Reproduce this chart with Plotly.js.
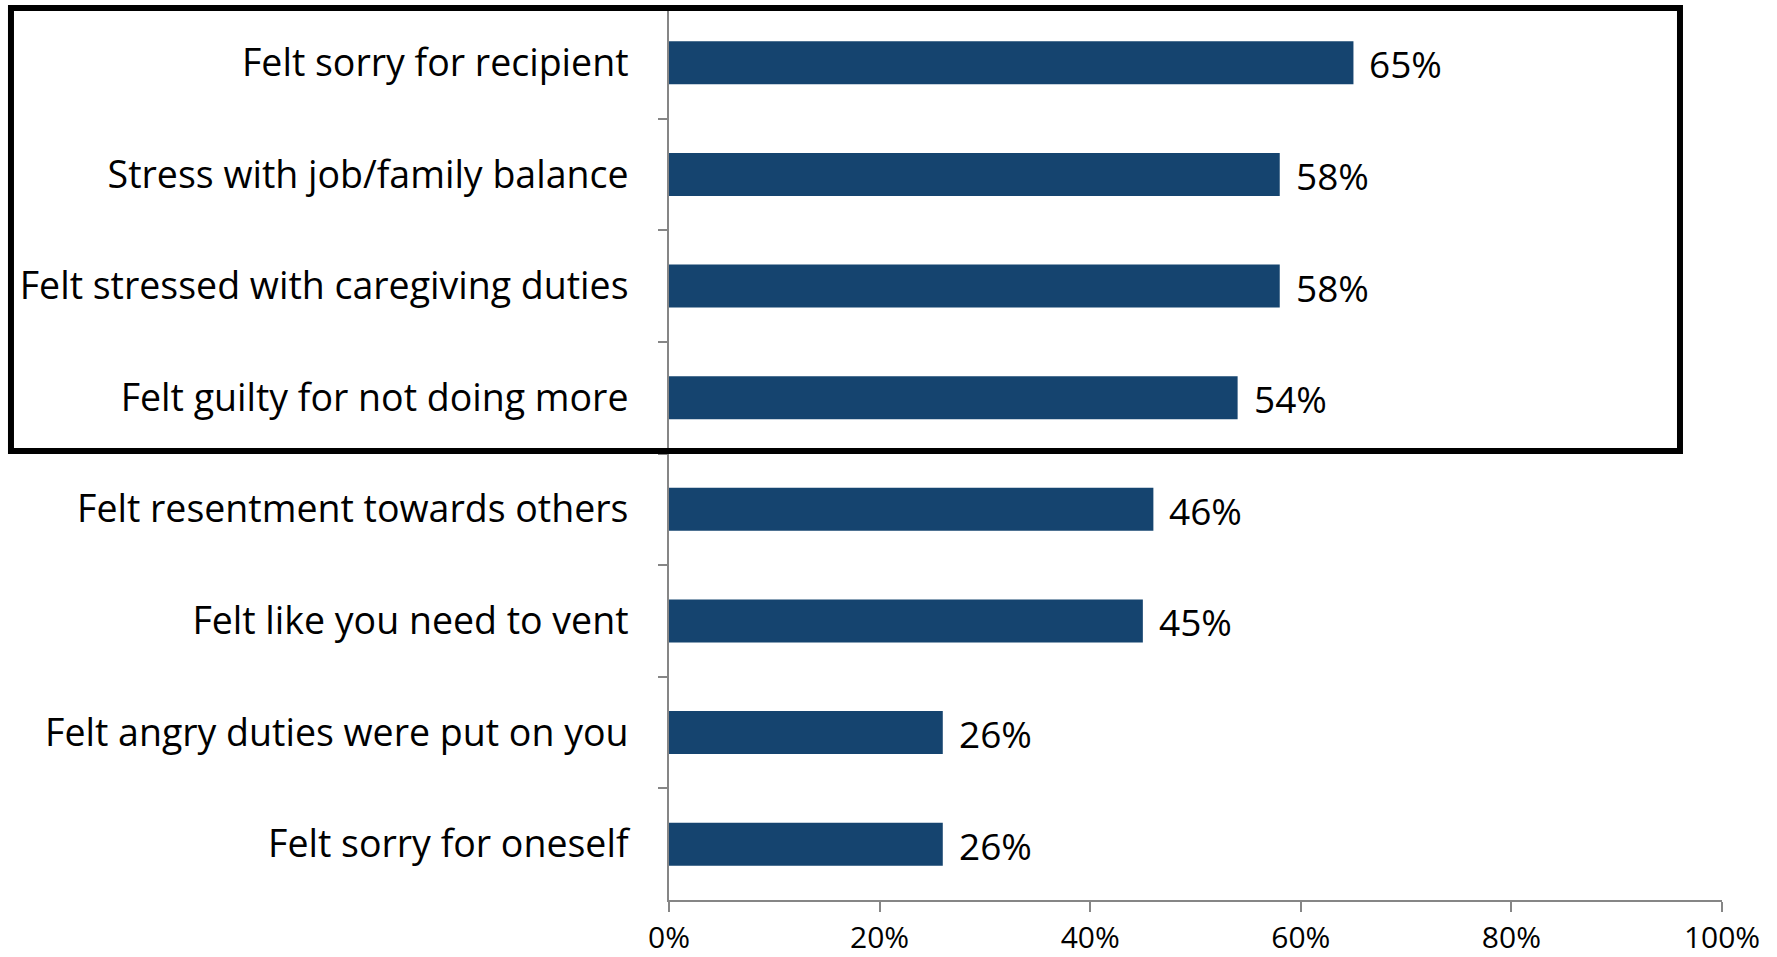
<!DOCTYPE html>
<html>
<head>
<meta charset="utf-8">
<script src="https://cdn.plot.ly/plotly-3.0.1.min.js"></script>
<style>html,body{margin:0;padding:0;background:#fff;}#chart{width:1777px;height:957px;}</style>
</head>
<body>
<div id="chart"></div>
<script>
const categories = [
  "Felt sorry for recipient",
  "Stress with job/family balance",
  "Felt stressed with caregiving duties",
  "Felt guilty for not doing more",
  "Felt resentment towards others",
  "Felt like you need to vent",
  "Felt angry duties were put on you",
  "Felt sorry for oneself"
];
const values = [0.65, 0.58, 0.58, 0.54, 0.46, 0.45, 0.26, 0.26];
const valueLabels = ["65%", "58%", "58%", "54%", "46%", "45%", "26%", "26%"];
const xTickVals = [0, 0.2, 0.4, 0.6, 0.8, 1.0];
const xTickText = ["0%", "20%", "40%", "60%", "80%", "100%"];

const FONT = "Open Sans, Noto Sans, sans-serif";

const trace = {
  type: "bar",
  orientation: "h",
  x: values,
  y: categories,
  marker: {color: "#15446F", line: {width: 0}},
  hoverinfo: "none"
};

const annotations = values.map((v, i) => ({
  x: v, y: categories[i], xref: "x", yref: "y",
  text: valueLabels[i], showarrow: false,
  xanchor: "left", yanchor: "middle", xshift: 14, yshift: -1,
  font: {family: FONT, size: 37, color: "#000"}
}));

const layout = {
  width: 1777, height: 957,
  margin: {l: 669, r: 55, t: 7, b: 57},
  paper_bgcolor: "#fff", plot_bgcolor: "#fff",
  showlegend: false,
  bargap: 0.614,
  xaxis: {
    range: [0, 1], tickvals: xTickVals, ticktext: xTickText,
    showgrid: false, zeroline: false,
    showline: true, linecolor: "#868686", linewidth: 2,
    ticks: "outside", ticklen: 10, tickwidth: 2, tickcolor: "#868686",
    ticklabelstandoff: 0,
    tickfont: {family: FONT, size: 30, color: "#000"},
    fixedrange: true
  },
  yaxis: {
    type: "category", autorange: "reversed",
    showgrid: false, zeroline: false,
    showline: true, linecolor: "#868686", linewidth: 2,
    ticks: "outside", tickson: "boundaries", ticklen: 9, tickwidth: 2, tickcolor: "#868686",
    ticklabelstandoff: 31,
    tickfont: {family: FONT, size: 37.5, color: "#000"},
    fixedrange: true
  },
  annotations: annotations,
  shapes: [{
    type: "rect", xref: "paper", yref: "paper",
    x0: -0.6249, x1: 0.9601, y0: 0.5028, y1: 0.9989,
    line: {color: "#000", width: 6}, fillcolor: "rgba(0,0,0,0)", layer: "above"
  }]
};

Plotly.newPlot("chart", [trace], layout, {displayModeBar: false, staticPlot: true});
</script>
</body>
</html>
